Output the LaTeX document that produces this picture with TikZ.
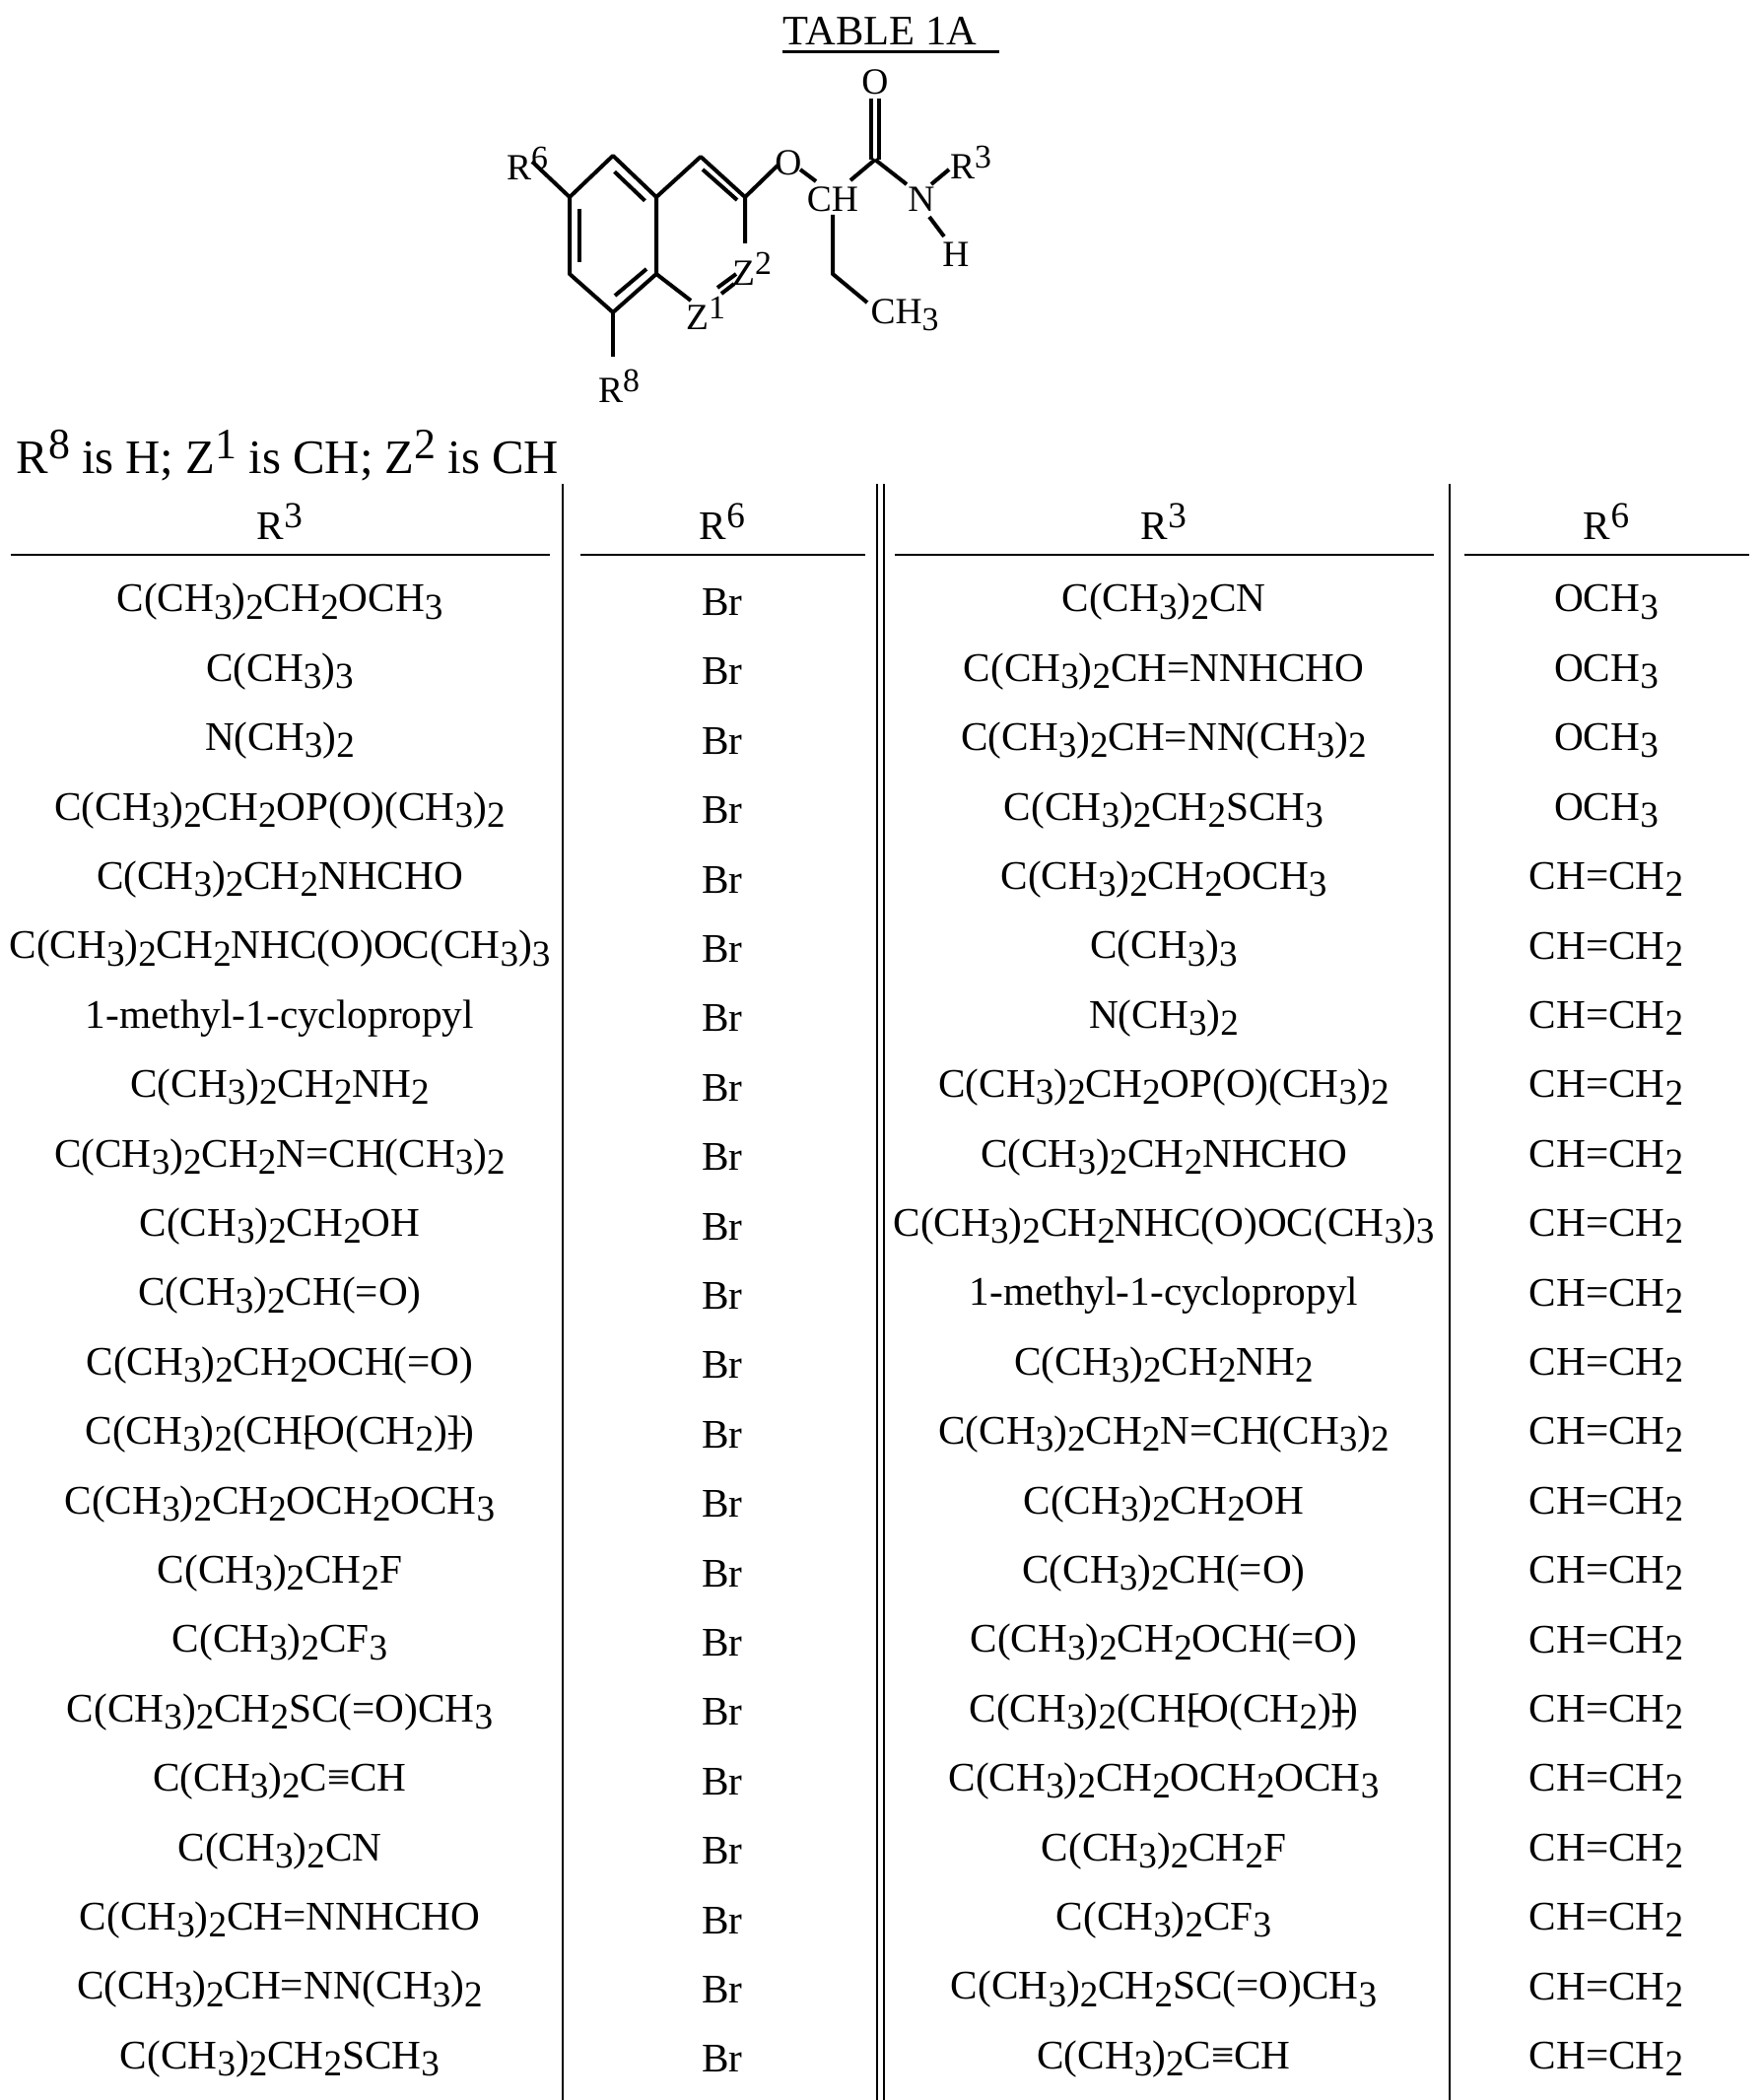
\documentclass[tikz,border=0pt]{standalone}
\usepackage{fontspec}
\usetikzlibrary{calc}
\setmainfont{Liberation Serif}
\newcommand\dn[1]{\raisebox{-0.38ex}{\scalebox{0.9}{#1}}}
\newcommand\upx[1]{\raisebox{0.65ex}{\scalebox{0.9}{#1}}}
\newcommand\bkk[1]{\makebox[0.33em][l]{#1\hspace{-0.3em}\raisebox{0.5ex}{\rule{0.4em}{0.06em}}}}
\newcommand\MM{C(CH\dn{3})\dn{2}}
\tikzset{bond/.style={line width=1.6pt},
  lab/.style={inner sep=0pt,font=\fontsize{15}{18}\selectfont},
  cell/.style={inner sep=0pt,font=\fontsize{16.5}{19}\selectfont},
  rule/.style={line width=1pt}}
\begin{document}
\begin{tikzpicture}[x=0.4pt,y=-0.4pt]
\useasboundingbox (0,0) rectangle (1790,2131);
% title
\node[cell,font=\fontsize{17}{20}\selectfont] (title) at (893,32) {TABLE 1A};
\draw[line width=1pt] (title.south west)++(0,6) -- ++(220,0);
% ring
\coordinate (a1) at (622,158); \coordinate (a2) at (666,200); \coordinate (a3) at (666,278);
\coordinate (a4) at (622,317); \coordinate (a5) at (578,278); \coordinate (a6) at (578,200);
\draw[bond,line join=round] (a1)--(a2)--(a3)--(a4)--(a5)--(a6)--cycle;
\draw[bond] ($(a1)!0.15!(a2)+(-5,10)$) -- ($(a1)!0.85!(a2)+(-5,10)$);
\draw[bond] (588,212) -- (588,266);
\draw[bond] (624,300) -- (656,273);
\coordinate (b1) at (711,159); \coordinate (b2) at (756,200); \coordinate (b3) at (756,247);
\draw[bond,line join=round] (a2)--(b1)--(b2)--(b3);
\draw[bond] (713,172) -- (748,203);
\node[lab] (r6) at (535,166) {R\upx{6}};
\draw[bond] (540,164) -- (a6);
\draw[bond] (a4) -- (622,362);
\node[lab] (r8) at (628,392) {R\upx{8}};
\node[lab] (z2) at (763,273) {Z\upx{2}};
\node[lab] (z1) at (716,318) {Z\upx{1}};
\draw[bond] (a3) -- (701,305);
\draw[bond] (728,292) -- (747,278);
\draw[bond] (732,298) -- (745,288);
\node[lab] (o1) at (800,165) {O};
\draw[bond] (b2) -- (789,168);
\node[lab] (ch) at (845,202) {CH};
\draw[bond] (812,172) -- (828,184);
\draw[bond] (863,183) -- (888,162);
\draw[bond] (884,162) -- (884,100);
\draw[bond] (892,162) -- (892,100);
\node[lab] (o2) at (888,83) {O};
\draw[bond] (888,162) -- (920,187);
\node[lab] (n) at (935,202) {N};
\draw[bond] (945,187) -- (963,172);
\node[lab] (r3) at (985,165) {R\upx{3}};
\draw[bond] (943,220) -- (958,240);
\node[lab] (h) at (970,258) {H};
\draw[bond,line join=round] (845,218) -- (845,278) -- (880,307);
\node[lab,anchor=west] (ch3) at (883,320) {CH\dn{3}};
% header
\node[cell,font=\fontsize{19.5}{22}\selectfont,anchor=west] (cond) at (16,462) {R\upx{8} is H; Z\upx{1} is CH; Z\upx{2} is CH};
\draw[rule] (571,491) -- (571,2131);
\draw[rule] (890,491) -- (890,2131);
\draw[rule] (897,491) -- (897,2131);
\draw[rule] (1471,491) -- (1471,2131);
\foreach \a/\b in {11/558,589/878,908/1455,1486/1775} \draw[rule] (\a,563) -- (\b,563);
\node[cell] (h1) at (284,529) {R\upx{3}};
\node[cell] (h2) at (733,529) {R\upx{6}};
\node[cell] (h3) at (1181,529) {R\upx{3}};
\node[cell] (h4) at (1630,529) {R\upx{6}};
% left
\foreach \t [count=\i] in {
 {\MM CH\dn2OCH\dn3},{C(CH\dn3)\dn3},{N(CH\dn3)\dn2},{\MM CH\dn2OP(O)(CH\dn3)\dn2},
 {\MM CH\dn2NHCHO},{\MM CH\dn2NHC(O)OC(CH\dn3)\dn3},{1-methyl-1-cyclopropyl},
 {\MM CH\dn2NH\dn2},{\MM CH\dn2N=CH(CH\dn3)\dn2},{\MM CH\dn2OH},{\MM CH(=O)},
 {\MM CH\dn2OCH(=O)},{\MM(CH\bkk{[}O(CH\dn2)\bkk{]})},{\MM CH\dn2OCH\dn2OCH\dn3},
 {\MM CH\dn2F},{\MM CF\dn3},{\MM CH\dn2SC(=O)CH\dn3},{\MM C≡CH},{\MM CN},
 {\MM CH=NNHCHO},{\MM CH=NN(CH\dn3)\dn2},{\MM CH\dn2SCH\dn3}}
{ \node[cell] (l\i) at (284,{611+(\i-1)*70.4}) {\t};
  \node[cell] (lr\i) at (733,{611+(\i-1)*70.4}) {Br}; }
% right
\foreach \t [count=\i] in {
 {\MM CN},{\MM CH=NNHCHO},{\MM CH=NN(CH\dn3)\dn2},{\MM CH\dn2SCH\dn3},
 {\MM CH\dn2OCH\dn3},{C(CH\dn3)\dn3},{N(CH\dn3)\dn2},{\MM CH\dn2OP(O)(CH\dn3)\dn2},
 {\MM CH\dn2NHCHO},{\MM CH\dn2NHC(O)OC(CH\dn3)\dn3},{1-methyl-1-cyclopropyl},
 {\MM CH\dn2NH\dn2},{\MM CH\dn2N=CH(CH\dn3)\dn2},{\MM CH\dn2OH},{\MM CH(=O)},
 {\MM CH\dn2OCH(=O)},{\MM(CH\bkk{[}O(CH\dn2)\bkk{]})},{\MM CH\dn2OCH\dn2OCH\dn3},
 {\MM CH\dn2F},{\MM CF\dn3},{\MM CH\dn2SC(=O)CH\dn3},{\MM C≡CH}}
{ \node[cell] (r\i) at (1181,{611+(\i-1)*70.4}) {\t};
  \ifnum\i<5 \node[cell] (rr\i) at (1630,{611+(\i-1)*70.4}) {OCH\dn3};
  \else \node[cell] (rr\i) at (1630,{611+(\i-1)*70.4}) {CH=CH\dn2}; \fi }
\end{tikzpicture}
\end{document}
